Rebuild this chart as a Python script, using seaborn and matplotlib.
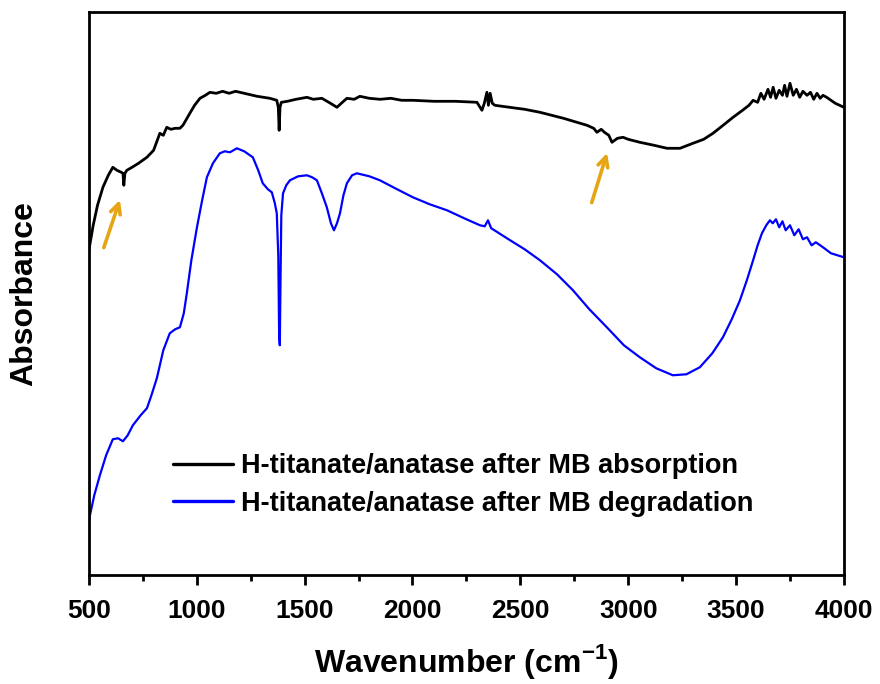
import seaborn as sns
import pandas as pd
import matplotlib.pyplot as plt

# FTIR spectra (arbitrary absorbance units)
wn_absorb = [500, 520, 540, 565, 590, 611, 630, 650, 658, 662,
             667, 676, 700, 730, 769, 800, 829, 845, 861, 880,
             900, 922, 936, 968, 990, 1015, 1040, 1061, 1090, 1120,
             1150, 1180, 1200, 1240, 1280, 1339, 1371, 1378, 1382, 1386,
             1392, 1420, 1460, 1511, 1540, 1580, 1620, 1650, 1670, 1696,
             1730, 1756, 1800, 1850, 1900, 1950, 2002, 2100, 2200, 2299,
             2322, 2333, 2345, 2352, 2360, 2370, 2382, 2450, 2520, 2591,
             2700, 2809, 2840, 2855, 2875, 2890, 2910, 2925, 2950, 2976,
             3000, 3054, 3120, 3180, 3240, 3300, 3350, 3393, 3440, 3486,
             3530, 3560, 3579, 3600, 3615, 3630, 3648, 3660, 3672, 3685,
             3700, 3715, 3725, 3736, 3750, 3765, 3780, 3795, 3810, 3829,
             3845, 3860, 3875, 3890, 3903, 3920, 3940, 3960, 3980, 4000]
ab_absorb = [3.25, 3.50, 3.70, 3.88, 4.00, 4.08, 4.05, 4.03, 4.02, 3.90,
             4.02, 4.05, 4.08, 4.12, 4.18, 4.25, 4.42, 4.40, 4.48, 4.46,
             4.47, 4.47, 4.50, 4.62, 4.70, 4.77, 4.80, 4.83, 4.82, 4.84,
             4.82, 4.84, 4.83, 4.81, 4.79, 4.77, 4.75, 4.68, 4.45, 4.68,
             4.73, 4.74, 4.76, 4.78, 4.76, 4.77, 4.72, 4.68, 4.72, 4.77,
             4.76, 4.79, 4.77, 4.76, 4.77, 4.75, 4.75, 4.74, 4.74, 4.73,
             4.65, 4.72, 4.83, 4.70, 4.82, 4.72, 4.70, 4.68, 4.66, 4.63,
             4.57, 4.50, 4.47, 4.43, 4.46, 4.43, 4.40, 4.33, 4.37, 4.38,
             4.36, 4.33, 4.30, 4.27, 4.27, 4.32, 4.36, 4.42, 4.50, 4.58,
             4.65, 4.70, 4.75, 4.73, 4.82, 4.76, 4.86, 4.78, 4.88, 4.77,
             4.85, 4.80, 4.90, 4.79, 4.92, 4.80, 4.86, 4.78, 4.84, 4.80,
             4.83, 4.76, 4.82, 4.77, 4.80, 4.78, 4.75, 4.72, 4.70, 4.68]

wn_degrad = [500, 525, 551, 580, 611, 635, 658, 680, 704, 740,
             769, 790, 815, 845, 875, 900, 922, 940, 954, 975,
             1001, 1025, 1047, 1075, 1107, 1130, 1154, 1170, 1186, 1220,
             1260, 1285, 1306, 1330, 1348, 1362, 1371, 1378, 1382, 1385,
             1388, 1392, 1400, 1415, 1432, 1470, 1511, 1535, 1557, 1580,
             1603, 1622, 1636, 1650, 1664, 1680, 1696, 1720, 1742, 1800,
             1849, 1920, 2002, 2080, 2160, 2240, 2313, 2335, 2350, 2365,
             2380, 2438, 2520, 2591, 2670, 2744, 2820, 2901, 2980, 3054,
             3130, 3207, 3270, 3332, 3390, 3439, 3480, 3518, 3550, 3579,
             3600, 3620, 3640, 3657, 3670, 3685, 3700, 3715, 3730, 3750,
             3770, 3790, 3810, 3829, 3850, 3870, 3903, 3940, 3970, 4000]
ab_degrad = [0.55, 0.80, 1.00, 1.20, 1.36, 1.37, 1.34, 1.40, 1.50, 1.60,
             1.67, 1.80, 1.97, 2.25, 2.42, 2.46, 2.48, 2.62, 2.82, 3.15,
             3.48, 3.75, 3.98, 4.12, 4.22, 4.24, 4.23, 4.25, 4.27, 4.24,
             4.18, 4.05, 3.92, 3.86, 3.83, 3.72, 3.62, 3.20, 2.40, 2.30,
             2.90, 3.60, 3.82, 3.90, 3.95, 3.99, 4.00, 3.98, 3.95, 3.82,
             3.68, 3.52, 3.45, 3.52, 3.62, 3.80, 3.92, 4.00, 4.02, 3.99,
             3.95, 3.87, 3.78, 3.71, 3.65, 3.57, 3.50, 3.49, 3.55, 3.47,
             3.45, 3.37, 3.26, 3.15, 3.01, 2.85, 2.66, 2.48, 2.30, 2.18,
             2.07, 2.00, 2.01, 2.08, 2.22, 2.38, 2.56, 2.75, 2.95, 3.15,
             3.30, 3.42, 3.50, 3.55, 3.52, 3.56, 3.48, 3.54, 3.45, 3.50,
             3.40, 3.46, 3.36, 3.38, 3.30, 3.33, 3.28, 3.22, 3.20, 3.18]

labels = ["H-titanate/anatase after MB absorption",
          "H-titanate/anatase after MB degradation"]

df = pd.concat([
    pd.DataFrame({"wn": wn_absorb, "ab": ab_absorb, "sample": labels[0]}),
    pd.DataFrame({"wn": wn_degrad, "ab": ab_degrad, "sample": labels[1]}),
])

sns.set_style("white")
plt.rcParams["font.family"] = ["Liberation Sans", "DejaVu Sans"]
plt.rcParams["font.weight"] = "bold"
plt.rcParams["text.color"] = "black"
plt.rcParams["axes.labelcolor"] = "black"
plt.rcParams["xtick.color"] = "black"
plt.rcParams["mathtext.fontset"] = "custom"
plt.rcParams["mathtext.rm"] = "Liberation Sans:bold"
plt.rcParams["mathtext.bf"] = "Liberation Sans:bold"

fig = plt.figure(figsize=(8.8, 6.84), dpi=100)
ax = fig.add_axes([0.101, 0.159, 0.858, 0.823])

ax = sns.lineplot(data=df, x="wn", y="ab", hue="sample", sort=False,
                  palette={labels[0]: "black", labels[1]: "#0000ff"}, ax=ax)
ax.lines[0].set_linewidth(2.0)
ax.lines[1].set_linewidth(1.6)

# orange arrows marking the bands
arrow_style = dict(arrowstyle="->", color="#e6a514", lw=2.6, mutation_scale=18)
ax.annotate("", xy=(648, 3.78), xytext=(565, 3.25), arrowprops=arrow_style)
ax.annotate("", xy=(2906, 4.25), xytext=(2827, 3.70), arrowprops=arrow_style)

ax.set_xlim(500, 4000)
ax.set_ylim(0, 5.63)
ax.set_xticks(range(500, 4001, 500))
ax.set_xticks(range(750, 4000, 500), minor=True)
ax.set_yticks([])
ax.tick_params(axis="x", which="major", direction="out", length=7, width=2,
               labelsize=19, pad=10, bottom=True, colors="black")
ax.tick_params(axis="x", which="minor", direction="out", length=4, width=2,
               bottom=True, colors="black")
for s in ax.spines.values():
    s.set_linewidth(2)
    s.set_color("black")

ax.set_xlabel(r"Wavenumber (cm$^{-1}$)", fontsize=23, fontweight="bold", labelpad=14)
ax.set_ylabel("Absorbance", fontsize=23, fontweight="bold", labelpad=36)

leg = ax.legend(loc="center left", bbox_to_anchor=(0.112, 0.16), frameon=False,
                fontsize=19.5, handlelength=2.2, handletextpad=0.3, labelspacing=0.42,
                borderpad=0, borderaxespad=0)
for h in leg.get_lines():
    h.set_linewidth(2.4)

fig.savefig("out.png", dpi=100)
